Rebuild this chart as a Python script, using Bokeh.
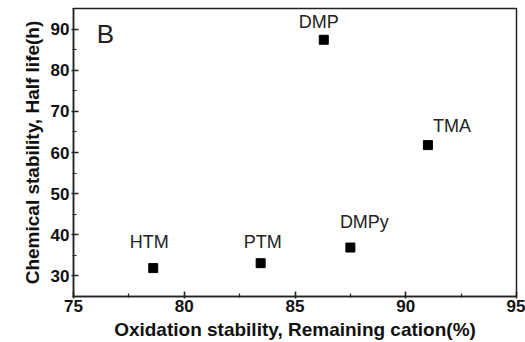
from bokeh.plotting import figure, ColumnDataSource
from bokeh.models import SingleIntervalTicker, Range1d, Label
from bokeh.embed import file_html
from bokeh.resources import INLINE
from bokeh.core.properties import value

# Data
names = ["HTM", "PTM", "DMPy", "DMP", "TMA"]
oxidation = [78.6, 83.45, 87.5, 86.3, 91.0]
half_life = [31.9, 33.1, 36.9, 87.4, 61.8]

# label offsets (screen px) for the annotations
label_dx = [-4, 2, 14, -5, 24]
label_dy = [-26, -21, -26, -18, -19]

x_ticks_interval = 5
y_ticks_interval = 10

src = ColumnDataSource(dict(x=oxidation, y=half_life, name=names,
                            dx=label_dx, dy=label_dy))

FONT = "Liberation Sans"

p = figure(width=525, height=342, output_backend="svg", toolbar_location=None,
           x_range=Range1d(75, 95), y_range=Range1d(25, 95),
           min_border_left=73, min_border_right=9, min_border_top=8, min_border_bottom=45)
p.xgrid.visible = False
p.ygrid.visible = False
p.outline_line_color = "#222222"
p.outline_line_width = 1.5
p.background_fill_color = "white"
p.border_fill_color = "white"

p.xaxis.ticker = SingleIntervalTicker(interval=x_ticks_interval, num_minor_ticks=2)
p.yaxis.ticker = SingleIntervalTicker(interval=y_ticks_interval, num_minor_ticks=2)

for ax in (p.xaxis[0], p.yaxis[0]):
    ax.axis_line_color = "#222222"
    ax.axis_line_width = 1.5
    ax.major_tick_in = 5
    ax.major_tick_out = 2
    ax.minor_tick_in = 3
    ax.minor_tick_out = 1
    ax.major_tick_line_color = "#222222"
    ax.minor_tick_line_color = "#222222"
    ax.major_tick_line_width = 1.5
    ax.minor_tick_line_width = 1.2
    ax.major_label_text_font = FONT
    ax.major_label_text_font_style = "bold"
    ax.major_label_text_font_size = "17px"
    ax.major_label_text_color = "#111111"
    ax.axis_label_text_font = FONT
    ax.axis_label_text_font_style = "bold"
    ax.axis_label_text_font_size = "19px"
    ax.axis_label_text_color = "#111111"

p.xaxis.axis_label = "Oxidation stability, Remaining cation(%)"
p.yaxis.axis_label = "Chemical stability, Half life(h)"
p.xaxis.major_label_standoff = 1
p.xaxis.axis_label_standoff = 4
p.yaxis.major_label_standoff = 2
p.yaxis.axis_label_standoff = 5

p.scatter("x", "y", source=src, marker="square", size=9,
          fill_color="black", line_color="black")

p.text("x", "y", text="name", source=src, x_offset="dx", y_offset="dy",
       text_font=value(FONT), text_font_size="18px", text_color="#222222",
       text_align="center", text_baseline="middle")

p.add_layout(Label(x=32, y=263, x_units="screen", y_units="screen",
                   text="B", text_font=FONT, text_font_size="26px",
                   text_color="#222222", text_align="center", text_baseline="middle"))

open("out.html", "w").write(file_html(p, INLINE))
